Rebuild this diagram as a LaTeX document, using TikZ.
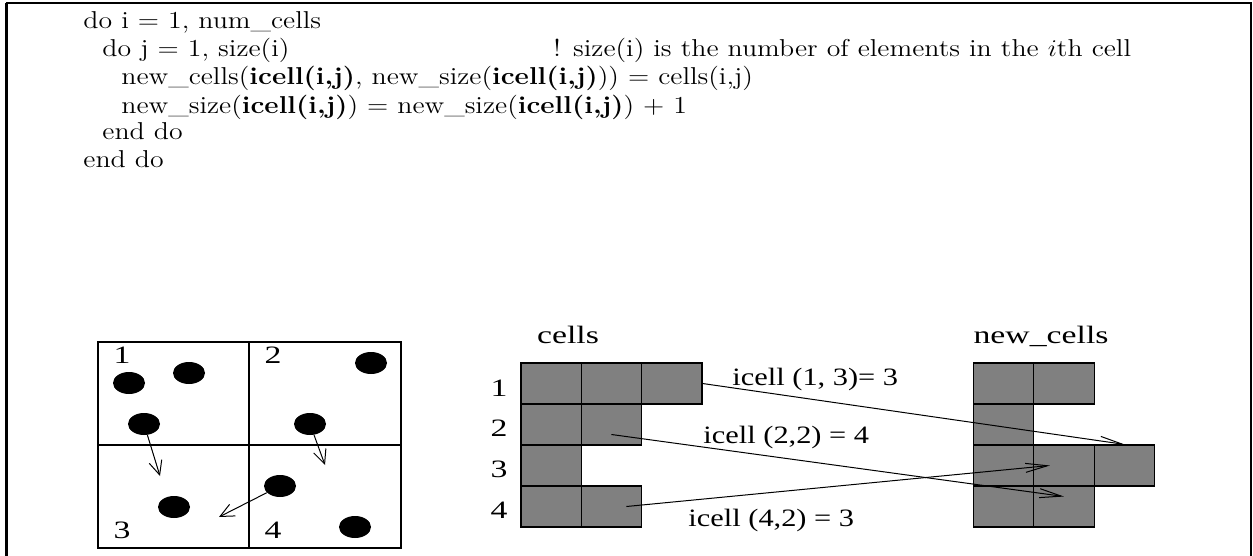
\documentclass[tikz,border=0pt]{standalone}
\usepackage{fontspec}
\newfontfamily\timesfont{Liberation Serif}
\usetikzlibrary{arrows.meta,shapes.geometric,positioning,calc}

\tikzset{
  codeline/.style={anchor=base west, inner sep=0, xscale=1.14, font=\fontsize{12.2}{15}\selectfont},
  figlabel/.style={inner sep=0, font=\timesfont\fontsize{12.5}{15}\selectfont, xscale=1.35},
  maplabel/.style={figlabel, xscale=0.9, anchor=base west},
  particle/.style={ellipse, fill=black, inner sep=0, minimum width=16pt, minimum height=11pt},
  cellbox/.style={draw, fill=black!50, inner sep=0, line width=0.6pt, minimum width=30.2pt, minimum height=20.5pt},
  movearrow/.style={-{Straight Barb[length=7pt,width=6.5pt]}, line width=0.5pt},
  maparrow/.style={-{Straight Barb[length=11pt,width=4.5pt]}, line width=0.5pt}
}

\begin{document}
\begin{tikzpicture}[x=0.5pt,y=-0.5pt]
\useasboundingbox (0,0) rectangle (1253,556);
% frame (open at the bottom)
\draw[line width=1.5pt] (6.5,556) -- (6.5,3);
\draw[line width=1.1pt] (5.8,3) -- (1251.5,3);
\draw[line width=1pt] (1251,3) -- (1251,556);

% the loop
\node[codeline] (l1) at (83,29) {do i = 1, num\_cells};
\node[codeline] (l2) at (102,57) {do j = 1, size(i)};
\node[codeline] (l2c) at (553,57) {! size(i) is the number of elements in the $i$th cell};
\node[codeline] (l3) at (121,85) {new\_cells(\textbf{icell(i,j)}, new\_size(\textbf{icell(i,j)})) = cells(i,j)};
\node[codeline] (l4) at (121,113) {new\_size(\textbf{icell(i,j)}) = new\_size(\textbf{icell(i,j)}) + 1};
\node[codeline] (l5) at (102,140) {end do};
\node[codeline] (l6) at (83,168) {end do};

% four cells with particles
\draw[line width=0.6pt] (98,342) rectangle (401,548);
\draw[line width=0.6pt] (249,342) -- (249,548);
\draw[line width=0.6pt] (98,445) -- (401,445);
\node[figlabel] (q1) at (122,355) {1};
\node[figlabel] (q2) at (273,355) {2};
\node[figlabel] (q3) at (122,530) {3};
\node[figlabel] (q4) at (273,530) {4};
\node[particle] (p1) at (129,383) {};
\node[particle] (p2) at (189,373) {};
\node[particle] (p3) at (144,424) {};
\node[particle] (p4) at (371,363) {};
\node[particle] (p5) at (310,424) {};
\node[particle] (p6) at (280,486) {};
\node[particle] (p7) at (174,507) {};
\node[particle] (p8) at (355,527) {};
\coordinate (m3) at (160,476);
\coordinate (m5) at (325,465);
\coordinate (m6) at (219,517);
\draw[movearrow] (p3) -- (m3);
\draw[movearrow] (p5) -- (m5);
\draw[movearrow] (p6) -- (m6);

% cells and new_cells
\node[figlabel, anchor=base] (cellstitle) at (568,343) {cells};
\node[figlabel, anchor=base west] (newtitle) at (973,343) {new\_cells};
\foreach \r/\n in {1/3,2/2,3/1,4/2}
  \foreach \c in {1,...,\n}
    \node[cellbox] (c\r\c) at ({521+60.3*(\c-0.5)},{363+41*(\r-0.5)}) {};
\foreach \r/\n in {1/2,2/1,3/3,4/2}
  \foreach \c in {1,...,\n}
    \node[cellbox] (n\r\c) at ({973+60.6*(\c-0.5)},{363+41*(\r-0.5)}) {};
\foreach \r in {1,...,4}
  \node[figlabel] (row\r) at (499,{388+40.7*(\r-1)}) {\r};

\draw[maparrow] (c13.east) -- (n33.north);
\draw[maparrow] ([yshift=-5pt]c22.center) -- ([yshift=5pt]n42.center);
\draw[maparrow] ([xshift=7.5pt]c42.center) -- ([xshift=-7pt]n32.center);
\node[maplabel] (lab13) at (732,385) {icell (1, 3)= 3};
\node[maplabel] (lab22) at (703,443) {icell (2,2) = 4};
\node[maplabel] (lab42) at (688,526) {icell (4,2) = 3};
\end{tikzpicture}
\end{document}
